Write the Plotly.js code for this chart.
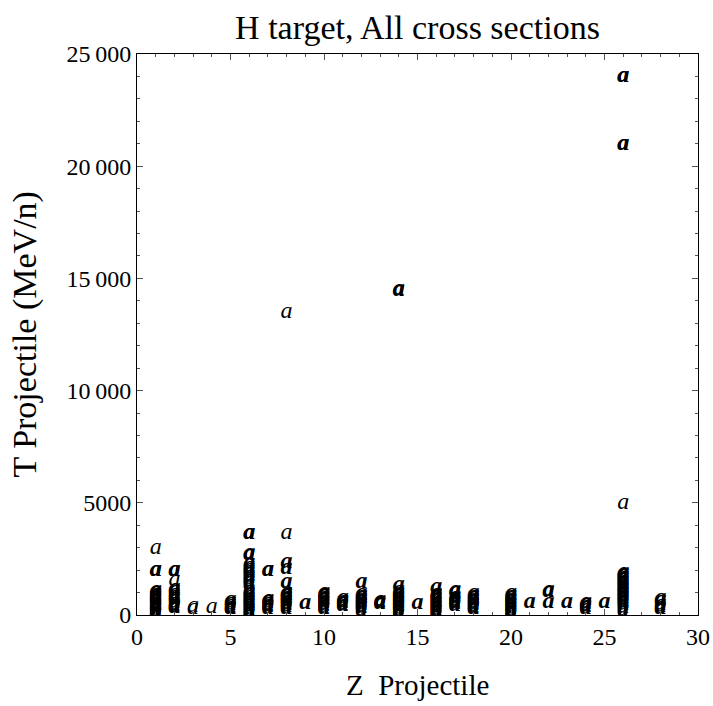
<!DOCTYPE html>
<html>
<head>
<meta charset="utf-8">
<script src="https://cdn.plot.ly/plotly-3.0.1.min.js"></script>
<style>html,body{margin:0;padding:0;background:#fff;}</style>
</head>
<body>
<div id="chart" style="width:713px;height:706px;"></div>
<script>
// Isolated (light) markers
const zLight = [1, 3, 3, 4, 8, 8, 26, 2];
const tLight = [2970, 330, 420, 340, 13500, 3640, 5000, 1560];

// Overlapping (dense / heavy-looking) markers, listed per projectile Z
const zHeavy = [
  1,1,1,1,1,1,1,1,1,1,1,1,1,1,1,1,1,1,1,1,1,1,1,1,
  2,2,2,2,2,2,2,2,2,2,2,2,2,
  5,5,5,5,5,5,
  6,6,6,6,6,6,6,6,6,6,6,6,6,6,6,6,6,6,6,6,6,6,6,6,6,6,6,6,6,6,
  7,7,7,7,7,7,7,7,7,
  8,8,8,8,8,8,8,8,8,8,8,8,8,8,8,
  9,
  10,10,10,10,10,10,10,10,10,10,10,10,10,
  11,11,11,11,11,11,
  12,12,12,12,12,12,12,12,12,12,12,12,12,
  13,13,13,13,
  14,14,14,14,14,14,14,14,14,14,14,14,14,14,14,14,14,14,14,14,
  15,
  16,16,16,16,16,16,16,16,16,16,16,16,16,16,16,16,16,16,
  17,17,17,17,17,17,17,17,17,17,
  18,18,18,18,18,18,18,18,18,18,18,18,
  20,20,20,20,20,20,20,20,20,20,20,20,20,20,20,20,
  21,
  22,22,22,
  23,
  24,24,24,24,24,
  25,
  26,26,26,26,26,26,26,26,26,26,26,26,26,26,26,26,26,26,26,26,26,26,26,26,26,26,26,26,26,26,
  28,28,28,28,28
];
const tHeavy = [
  2000,2020,1100,1050,1000,950,900,850,800,750,700,650,600,550,500,450,400,350,300,250,200,150,100,30,
  2000,2020,1190,1100,1000,890,800,700,590,500,450,400,340,
  650,600,500,400,350,300,
  3650,3660,2750,2740,2300,2200,2100,2000,1900,1800,1700,1600,1500,1400,1100,1030,960,890,820,750,680,610,540,470,400,330,260,190,120,40,
  2000,2010,700,650,600,500,450,400,300,
  2380,2090,1490,1040,980,920,860,800,740,680,620,550,480,400,300,
  550,
  1040,980,920,860,800,740,680,620,560,500,440,370,300,
  750,680,620,560,500,450,
  1490,960,900,840,780,720,660,600,540,480,410,340,220,
  680,620,570,520,
  14500,14510,1340,1100,1040,980,920,860,800,740,680,620,560,500,440,380,320,230,120,30,
  520,
  1260,1000,940,880,820,760,700,640,580,520,460,400,340,280,220,160,90,20,
  1110,1050,850,800,740,680,620,590,520,450,
  960,900,840,780,720,660,600,540,480,420,360,290,
  960,900,840,780,720,660,600,540,480,420,360,300,230,160,80,20,
  590,
  1110,1060,590,
  590,
  590,520,450,380,300,
  590,
  24000,24010,21000,21010,1930,1870,1810,1750,1690,1630,1570,1510,1450,1390,1330,1270,1210,1150,1090,1030,970,910,850,790,730,670,580,480,350,220,
  740,680,500,380,300
];

const xTickVals = [0, 5, 10, 15, 20, 25, 30];
const yTickVals = [0, 5000, 10000, 15000, 20000, 25000];
const yTickText = ['0', '5000', '10\u2009000', '15\u2009000', '20\u2009000', '25\u2009000'];

const titleText = 'H target, All cross sections';
const xTitleText = 'Z  Projectile';
const yTitleText = 'T Projectile (MeV/n)';

const FONT = 'Liberation Serif';

const traces = [
  {
    x: zLight, y: tLight, mode: 'text', type: 'scatter',
    text: zLight.map(() => 'a'), textposition: 'middle center',
    textfont: {family: FONT, size: 24, style: 'italic', color: '#000'},
    hoverinfo: 'x+y', showlegend: false
  },
  {
    x: zHeavy, y: tHeavy, mode: 'text', type: 'scatter',
    text: zHeavy.map(() => 'a'), textposition: 'middle center',
    textfont: {family: FONT, size: 24, style: 'italic', weight: 'bold', color: '#000'},
    hoverinfo: 'x+y', showlegend: false
  }
];

const layout = {
  width: 713, height: 706,
  font: {family: FONT, color: '#000'},
  margin: {l: 137, r: 15, t: 54, b: 91},
  paper_bgcolor: '#fff', plot_bgcolor: '#fff',
  title: {text: titleText, font: {family: FONT, size: 34, color: '#000'},
          x: 0.5, xref: 'paper', y: 0.962, yref: 'container', yanchor: 'middle'},
  xaxis: {
    showgrid: false, zeroline: false,
    showline: true, linecolor: '#000', linewidth: 1, mirror: 'allticks',
    ticks: 'inside', ticklen: 6, tickwidth: 1, tickcolor: '#555',
    tickfont: {family: FONT, size: 24, color: '#000'},
    range: [0, 30], tickmode: 'array', tickvals: xTickVals,
    minor: {dtick: 1, ticks: 'inside', ticklen: 3, tickcolor: '#555', showgrid: false}
  },
  yaxis: {
    showgrid: false, zeroline: false,
    showline: true, linecolor: '#000', linewidth: 1, mirror: 'allticks',
    ticks: 'inside', ticklen: 6, tickwidth: 1, tickcolor: '#555',
    tickfont: {family: FONT, size: 24, color: '#000'},
    range: [0, 25000], tickmode: 'array', tickvals: yTickVals, ticktext: yTickText,
    minor: {dtick: 1000, ticks: 'inside', ticklen: 3, tickcolor: '#555', showgrid: false}
  },
  annotations: [
    {text: xTitleText, xref: 'paper', yref: 'paper', x: 0.5, y: -0.1248,
     xanchor: 'center', yanchor: 'middle', showarrow: false,
     font: {family: FONT, size: 29, color: '#000'}},
    {text: yTitleText, xref: 'paper', yref: 'paper', x: -0.2014, y: 0.5,
     xanchor: 'center', yanchor: 'middle', showarrow: false, textangle: -90,
     font: {family: FONT, size: 34, color: '#000'}}
  ],
  showlegend: false
};

Plotly.newPlot('chart', traces, layout, {displayModeBar: false, staticPlot: true});
</script>
</body>
</html>
